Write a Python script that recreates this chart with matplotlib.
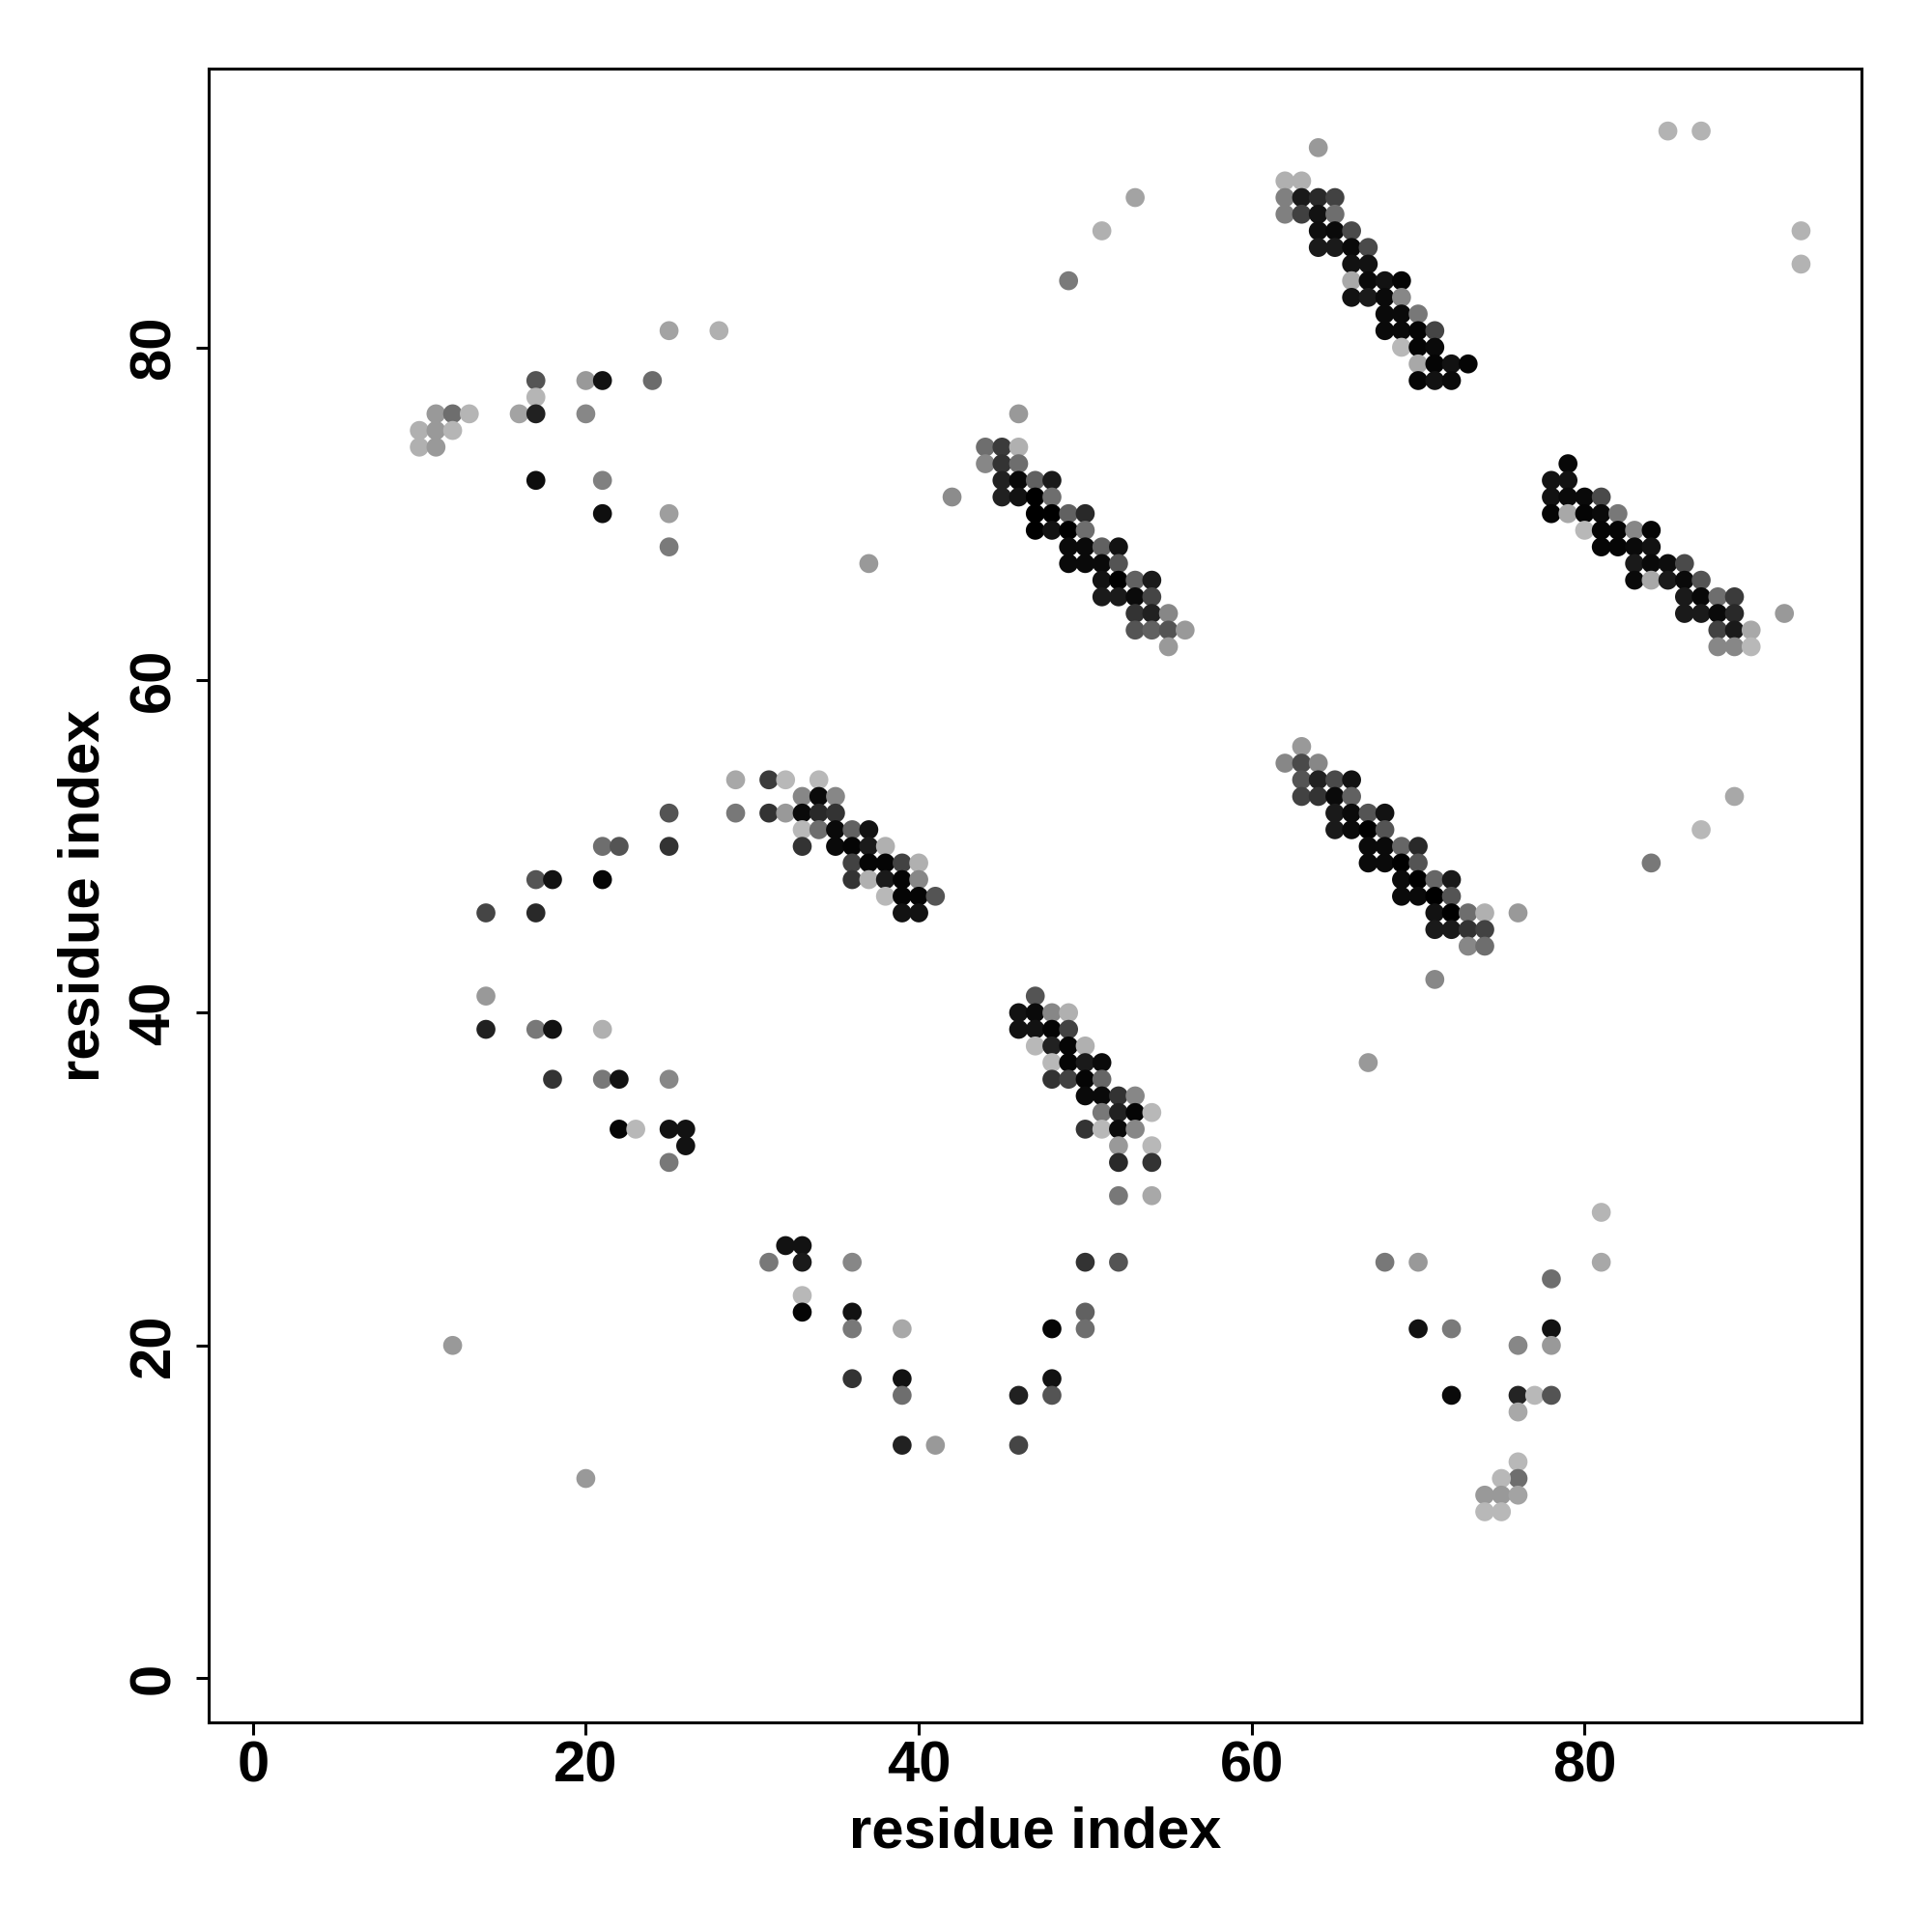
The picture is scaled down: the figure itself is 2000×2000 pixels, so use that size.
import matplotlib
matplotlib.use("Agg")
import matplotlib.pyplot as plt

plt.rcParams['font.family'] = ['Liberation Sans', 'DejaVu Sans']

# (residue i, residue j, grey level 0=black .. 1=white)
top_left = [(25, 81, .64), (28, 81, .69), (17, 78, .33), (20, 78, .60), (21, 78, .07),
            (24, 78, .42), (17, 77, .71), (11, 76, .60), (12, 76, .43), (13, 76, .71),
            (16, 76, .64), (17, 76, .13), (20, 76, .53), (10, 75, .69), (11, 75, .60),
            (12, 75, .71), (10, 74, .69), (11, 74, .60), (17, 72, .05), (21, 72, .50),
            (21, 70, .06), (25, 70, .62), (25, 68, .48), (37, 67, .60)]

top_sparse = [(64, 92, .60), (53, 89, .64), (51, 87, .69), (49, 84, .48), (85, 93, .70),
              (87, 93, .70), (93, 87, .70), (93, 85, .70), (46, 76, .60), (42, 71, .55),
              (92, 64, .60), (89, 53, .66), (87, 51, .72), (84, 49, .47), (76, 46, .60),
              (71, 42, .53), (67, 37, .60)]

band_1 = [(62, 90, .69), (63, 90, .69),
          (62, 89, .50), (63, 89, .10), (64, 89, .16), (65, 89, .26),
          (62, 88, .50), (63, 88, .25), (64, 88, .07), (65, 88, .43),
          (64, 87, .06), (65, 87, .04), (66, 87, .29),
          (64, 86, .10), (65, 86, .10), (66, 86, .04), (67, 86, .29),
          (66, 85, .07), (67, 85, .07),
          (66, 84, .66), (67, 84, .04), (68, 84, .07), (69, 84, .02),
          (66, 83, .07), (67, 83, .10), (68, 83, .04), (69, 83, .53),
          (68, 82, .04), (69, 82, .04), (70, 82, .47),
          (68, 81, .04), (69, 81, .04), (70, 81, .02), (71, 81, .27),
          (69, 80, .72), (70, 80, .02), (71, 80, .04),
          (70, 79, .66), (71, 79, .02), (72, 79, .07), (73, 79, .02),
          (70, 78, .02), (71, 78, .07), (72, 78, .04)]

band_2 = [(44, 74, .43), (45, 74, .23), (46, 74, .69),
          (44, 73, .53), (45, 73, .20), (46, 73, .43),
          (45, 72, .13), (46, 72, .03), (47, 72, .38), (48, 72, .10),
          (45, 71, .13), (46, 71, .07), (47, 71, .00), (48, 71, .43),
          (47, 70, .00), (48, 70, .00), (49, 70, .38), (50, 70, .16),
          (47, 69, .00), (48, 69, .07), (49, 69, .00), (50, 69, .43),
          (49, 68, .04), (50, 68, .04), (51, 68, .38), (52, 68, .07),
          (49, 67, .04), (50, 67, .04), (51, 67, .04), (52, 67, .33),
          (51, 66, .07), (52, 66, .00), (53, 66, .38), (54, 66, .10),
          (51, 65, .10), (52, 65, .10), (53, 65, .04), (54, 65, .27),
          (53, 64, .20), (54, 64, .13), (55, 64, .53),
          (53, 63, .33), (54, 63, .38), (55, 63, .33), (56, 63, .60),
          (55, 62, .60)]

band_3 = [(79, 73, .03),
          (78, 72, .07), (79, 72, .07),
          (78, 71, .07), (79, 71, .04), (80, 71, .04), (81, 71, .29),
          (78, 70, .02), (79, 70, .66), (80, 70, .02), (81, 70, .04), (82, 70, .47),
          (80, 69, .72), (81, 69, .02), (82, 69, .02), (83, 69, .53), (84, 69, .02),
          (81, 68, .02), (82, 68, .02), (83, 68, .04), (84, 68, .07),
          (83, 67, .10), (84, 67, .04), (85, 67, .05), (86, 67, .29),
          (83, 66, .04), (84, 66, .66), (85, 66, .10), (86, 66, .04), (87, 66, .33),
          (86, 65, .10), (87, 65, .03), (88, 65, .43), (89, 65, .23),
          (86, 64, .10), (87, 64, .10), (88, 64, .04), (89, 64, .16),
          (88, 63, .26), (89, 63, .10), (90, 63, .66),
          (88, 62, .53), (89, 62, .53), (90, 62, .72)]

band_4 = [(63, 56, .60),
          (62, 55, .53), (63, 55, .29), (64, 55, .53),
          (63, 54, .33), (64, 54, .13), (65, 54, .29), (66, 54, .07),
          (63, 53, .26), (64, 53, .20), (65, 53, .04), (66, 53, .38),
          (65, 52, .10), (66, 52, .04), (67, 52, .33), (68, 52, .07),
          (65, 51, .10), (66, 51, .04), (67, 51, .00), (68, 51, .33),
          (67, 50, .04), (68, 50, .04), (69, 50, .40), (70, 50, .16),
          (67, 49, .04), (68, 49, .04), (69, 49, .00), (70, 49, .33),
          (69, 48, .04), (70, 48, .00), (71, 48, .40), (72, 48, .10),
          (69, 47, .04), (70, 47, .04), (71, 47, .00), (72, 47, .33),
          (71, 46, .07), (72, 46, .00), (73, 46, .43), (74, 46, .69),
          (71, 45, .10), (72, 45, .10), (73, 45, .20), (74, 45, .26),
          (73, 44, .53), (74, 44, .43)]

band_5 = [(29, 54, .66), (31, 54, .23), (32, 54, .72), (34, 54, .72),
          (33, 53, .53), (34, 53, .04), (35, 53, .53),
          (29, 52, .47), (31, 52, .20), (32, 52, .60), (33, 52, .04), (34, 52, .16), (35, 52, .20),
          (33, 51, .72), (34, 51, .43), (35, 51, .04), (36, 51, .38), (37, 51, .07),
          (33, 50, .20), (35, 50, .04), (36, 50, .02), (37, 50, .10), (38, 50, .69),
          (36, 49, .26), (37, 49, .02), (38, 49, .02), (39, 49, .26), (40, 49, .69),
          (36, 48, .20), (37, 48, .69), (38, 48, .10), (39, 48, .02), (40, 48, .53),
          (38, 47, .72), (39, 47, .02), (40, 47, .02), (41, 47, .33),
          (39, 46, .07), (40, 46, .07)]

left_mid = [(25, 52, .33), (21, 50, .43), (22, 50, .33), (25, 50, .20), (17, 48, .33),
            (18, 48, .07), (21, 48, .02), (14, 46, .27), (17, 46, .16), (14, 41, .60),
            (14, 39, .13), (17, 39, .47), (18, 39, .07), (21, 39, .69), (18, 36, .20),
            (21, 36, .47), (22, 36, .07), (25, 36, .53), (22, 33, .02), (23, 33, .72),
            (25, 33, .07), (26, 33, .07), (26, 32, .07), (25, 31, .47)]

band_6 = [(47, 41, .33),
          (46, 40, .07), (47, 40, .04), (48, 40, .53), (49, 40, .69),
          (46, 39, .07), (47, 39, .07), (48, 39, .02), (49, 39, .26),
          (47, 38, .72), (48, 38, .13), (49, 38, .02), (50, 38, .69),
          (48, 37, .72), (49, 37, .02), (50, 37, .10), (51, 37, .04),
          (48, 36, .20), (49, 36, .26), (50, 36, .02), (51, 36, .40),
          (50, 35, .04), (51, 35, .04), (52, 35, .20), (53, 35, .53),
          (51, 34, .47), (52, 34, .13), (53, 34, .02), (54, 34, .72),
          (50, 33, .20), (51, 33, .72), (52, 33, .04), (53, 33, .53),
          (52, 32, .60), (54, 32, .72),
          (52, 31, .16), (54, 31, .20),
          (52, 29, .47), (54, 29, .66)]

bottom_left = [(32, 26, .07), (33, 26, .07), (31, 25, .47), (33, 25, .10), (36, 25, .53),
               (33, 23, .72), (33, 22, .02), (36, 22, .07), (36, 21, .47), (36, 18, .20),
               (12, 20, .60), (20, 12, .60), (39, 21, .66), (39, 18, .07), (39, 17, .43),
               (39, 14, .13), (41, 14, .60), (46, 17, .13), (46, 14, .27), (48, 21, .02),
               (48, 18, .07), (48, 17, .33), (50, 25, .20), (50, 22, .38), (50, 21, .43),
               (52, 25, .33)]

bottom_right = [(68, 25, .47), (70, 25, .60), (81, 28, .71), (81, 25, .66), (78, 24, .43),
                (70, 21, .07), (72, 21, .48), (78, 21, .07), (76, 20, .53), (78, 20, .60),
                (72, 17, .04), (76, 17, .14), (77, 17, .72), (78, 17, .33), (76, 16, .66),
                (76, 13, .72), (76, 12, .43), (75, 12, .72), (74, 11, .60), (75, 11, .60),
                (76, 11, .64), (74, 10, .72), (75, 10, .72)]

ticks = [0, 20, 40, 60, 80]
axis_label = "residue index"

groups = [top_left, top_sparse, band_1, band_2, band_3, band_4, band_5,
          left_mid, band_6, bottom_left, bottom_right]
res_i = [p[0] for g in groups for p in g]
res_j = [p[1] for g in groups for p in g]
grey = [p[2] for g in groups for p in g]

fig = plt.figure(figsize=(20, 20), dpi=100)
ax = fig.add_axes([0.1078, 0.1085, 0.8557, 0.8558])

ax.scatter(res_i, res_j, s=200, c=[(g, g, g) for g in grey], edgecolors='none')

ax.set_xlim(-2.68, 96.63)
ax.set_ylim(-2.66, 96.73)
ax.set_xticks(ticks)
ax.set_yticks(ticks)
ax.set_xticklabels([str(t) for t in ticks])
ax.set_yticklabels([str(t) for t in ticks], rotation=90, va='center')

for sp in ax.spines.values():
    sp.set_linewidth(2.2)

ax.tick_params(axis='both', length=9.4, width=2.2, labelsize=43, direction='out')
ax.tick_params(axis='x', pad=3.6)
ax.tick_params(axis='y', pad=11)
for lab in ax.get_xticklabels() + ax.get_yticklabels():
    lab.set_fontweight('bold')

ax.set_xlabel(axis_label, fontsize=43, fontweight='bold')
ax.set_ylabel(axis_label, fontsize=43, fontweight='bold')
ax.xaxis.set_label_coords(0.5, -0.0508)
ax.yaxis.set_label_coords(-0.059, 0.5)

fig.savefig("out.png", dpi=100)
